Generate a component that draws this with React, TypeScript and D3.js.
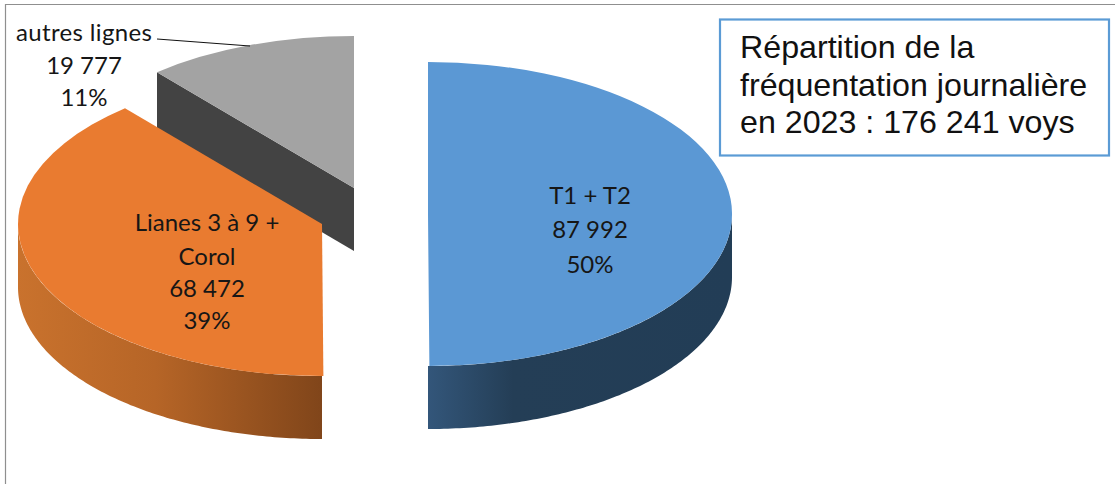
import React from "react";
import * as d3 from "d3";

const categories = ["T1 + T2", "Lianes 3 à 9 + Corol", "autres lignes"];
const values = [87992, 68472, 19777];
const percents = ["50%", "39%", "11%"];
const valueLabels = ["87 992", "68 472", "19 777"];
const topColors = ["#5b98d4", "#e97b30", "#a3a3a3"];
const titleLines = ["Répartition de la", "fréquentation journalière", "en 2023 : 176 241 voys"];

const W = 1115, H = 484;
const RX = 304, RATIO = 0.5, DEPTH = 63;
const centers: [number, number][] = [[428, 214], [322, 224], [354, 188]];
const labelLines = [
  { x: 590, ys: [204, 238, 273], lines: [categories[0], valueLabels[0], percents[0]] },
  { x: 207, ys: [231, 265, 297, 329], lines: ["Lianes 3 à 9 +", "Corol", valueLabels[1], percents[1]] },
  { x: 84, ys: [41, 74, 106], lines: [categories[2], valueLabels[2], percents[2]] },
];

const pie = d3.pie<number>().sort(null).startAngle(0).endAngle(2 * Math.PI);
const arcs = pie(values);
const arcGen = d3.arc<d3.PieArcDatum<number>>().innerRadius(0).outerRadius(RX);

// ellipse point for a clockwise-from-top angle
const pt = (i: number, a: number): [number, number] => [
  centers[i][0] + RX * Math.sin(a),
  centers[i][1] - RX * RATIO * Math.cos(a),
];

function wallPath(i: number, a0: number, a1: number) {
  const angles = d3.range(0, 121).map((k) => a0 + ((a1 - a0) * k) / 120);
  const top = angles.map((a) => pt(i, a));
  const bottom = angles.map((a) => pt(i, a)).map(([x, y]) => [x, y + DEPTH] as [number, number]).reverse();
  return d3.line()([...top, ...bottom]) + "Z";
}

const rightAngle = Math.PI / 2;
const downAngle = Math.PI;
const leftAngle = (3 * Math.PI) / 2;

export default function App() {
  const blue = arcs[0], orange = arcs[1], gray = arcs[2];
  const grayCorner = pt(2, gray.startAngle);
  const grayC = centers[2];
  const cut = d3.line()([
    grayCorner,
    grayC,
    [grayC[0], grayC[1] + DEPTH],
    [grayCorner[0], grayCorner[1] + DEPTH],
  ]) + "Z";
  return (
    <svg width={W} height={H} style={{ position: "absolute", left: 0, top: 0, background: "#fff" }}>
      <defs>
        <linearGradient id="blueWall" gradientUnits="userSpaceOnUse" x1={428} x2={732} y1={0} y2={0}>
          <stop offset="0" stopColor="#33567a" />
          <stop offset="0.28" stopColor="#243e56" />
          <stop offset="1" stopColor="#223d56" />
        </linearGradient>
        <linearGradient id="orangeWall" gradientUnits="userSpaceOnUse" x1={18} x2={323} y1={0} y2={0}>
          <stop offset="0" stopColor="#c9722d" />
          <stop offset="0.45" stopColor="#b66527" />
          <stop offset="1" stopColor="#80451a" />
        </linearGradient>
      </defs>
      <path d={`M5.5 ${H}V4.5H${W}`} fill="none" stroke="#8f8f8f" strokeWidth={1.2} />

      {/* grey slice */}
      <path d={cut} fill="#434343" />
      <path d={arcGen(gray)!} transform={`translate(${grayC[0]},${grayC[1]}) scale(1,${RATIO})`} fill={topColors[2]} />

      {/* orange slice */}
      <path d={wallPath(1, downAngle, leftAngle)} fill="url(#orangeWall)" />
      <path d={arcGen(orange)!} transform={`translate(${centers[1][0]},${centers[1][1]}) scale(1,${RATIO})`} fill={topColors[1]} />

      {/* blue slice */}
      <path d={wallPath(0, rightAngle, downAngle)} fill="url(#blueWall)" />
      <path d={arcGen(blue)!} transform={`translate(${centers[0][0]},${centers[0][1]}) scale(1,${RATIO})`} fill={topColors[0]} />

      <line x1={157} y1={39} x2={250} y2={46} stroke="#111" strokeWidth={1} />

      {labelLines.map((g, i) => (
        <g key={i} fontFamily="Lato" fontSize={24} fill="#161616" textAnchor="middle">
          {g.lines.map((t, j) => (
            <text key={j} x={g.x} y={g.ys[j]} textLength={t === categories[2] ? 136 : undefined}>{t}</text>
          ))}
        </g>
      ))}

      <rect x={720} y={19.5} width={389} height={136} fill="#fff" stroke="#5b9bd5" strokeWidth={2.2} />
      <g fontFamily="Liberation Sans" fontSize={32.2} fill="#111">
        {titleLines.map((t, i) => (
          <text key={i} x={740} y={[58, 96, 133][i]}>{t}</text>
        ))}
      </g>
    </svg>
  );
}
